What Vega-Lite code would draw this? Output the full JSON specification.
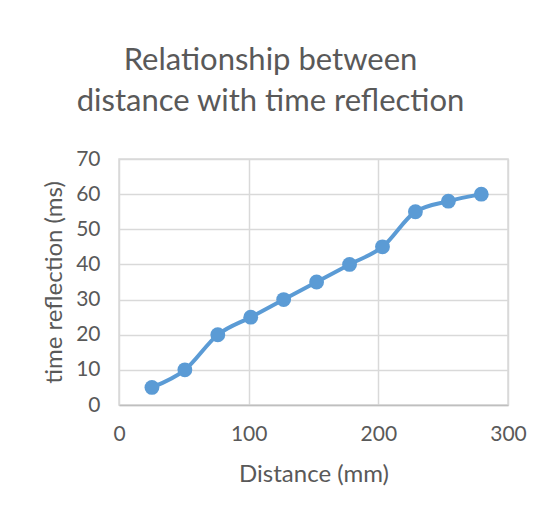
{
  "$schema": "https://vega.github.io/schema/vega-lite/v6.json",
  "width": 389,
  "height": 246,
  "autosize": {"type": "none"},
  "padding": {"left": 119, "top": 159, "right": 33, "bottom": 111},
  "background": "white",
  "title": {
    "text": ["Relationship between", "distance with time reflection"],
    "font": "Lato",
    "fontSize": 31,
    "fontWeight": "normal",
    "color": "#595959",
    "lineHeight": 41,
    "anchor": "middle",
    "frame": "group",
    "dx": -43,
    "offset": 30
  },
  "data": {
    "values": [
      {"distance": 25.4, "time": 5},
      {"distance": 50.8, "time": 10},
      {"distance": 76.2, "time": 20},
      {"distance": 101.6, "time": 25},
      {"distance": 127, "time": 30},
      {"distance": 152.4, "time": 35},
      {"distance": 177.8, "time": 40},
      {"distance": 203.2, "time": 45},
      {"distance": 228.6, "time": 55},
      {"distance": 254, "time": 58},
      {"distance": 279.4, "time": 60}
    ]
  },
  "encoding": {
    "x": {
      "field": "distance",
      "type": "quantitative",
      "scale": {"domain": [0, 300], "nice": false, "zero": true},
      "axis": {
        "title": "Distance (mm)",
        "values": [0, 100, 200, 300],
        "grid": true,
        "gridColor": "#d9d9d9",
        "gridWidth": 1.5,
        "domainColor": "#bfbfbf",
        "domainWidth": 1.5,
        "ticks": false,
        "tickSize": 0,
        "labelFont": "Lato",
        "labelFontSize": 21,
        "labelColor": "#595959",
        "labelPadding": 18,
        "labelFlush": false,
        "titleFont": "Lato",
        "titleFontSize": 24,
        "titleFontWeight": "normal",
        "titleColor": "#595959",
        "titlePadding": 18
      }
    },
    "y": {
      "field": "time",
      "type": "quantitative",
      "scale": {"domain": [0, 70], "nice": false},
      "axis": {
        "title": "time reflection (ms)",
        "values": [0, 10, 20, 30, 40, 50, 60, 70],
        "grid": true,
        "gridColor": "#d9d9d9",
        "gridWidth": 1.5,
        "domain": false,
        "ticks": false,
        "tickSize": 0,
        "labelFont": "Lato",
        "labelFontSize": 21,
        "labelColor": "#595959",
        "labelPadding": 19,
        "labelFlush": false,
        "titleFont": "Lato",
        "titleFontSize": 24,
        "titleFontWeight": "normal",
        "titleColor": "#595959",
        "titlePadding": 9
      }
    }
  },
  "layer": [
    {
      "mark": {"type": "line", "color": "#5b9bd5", "strokeWidth": 4, "interpolate": "monotone"}
    },
    {
      "mark": {"type": "point", "filled": true, "shape": "circle", "color": "#5b9bd5", "opacity": 1, "size": 220}
    }
  ],
  "config": {
    "view": {"stroke": "#d9d9d9", "strokeWidth": 1.5}
  }
}
